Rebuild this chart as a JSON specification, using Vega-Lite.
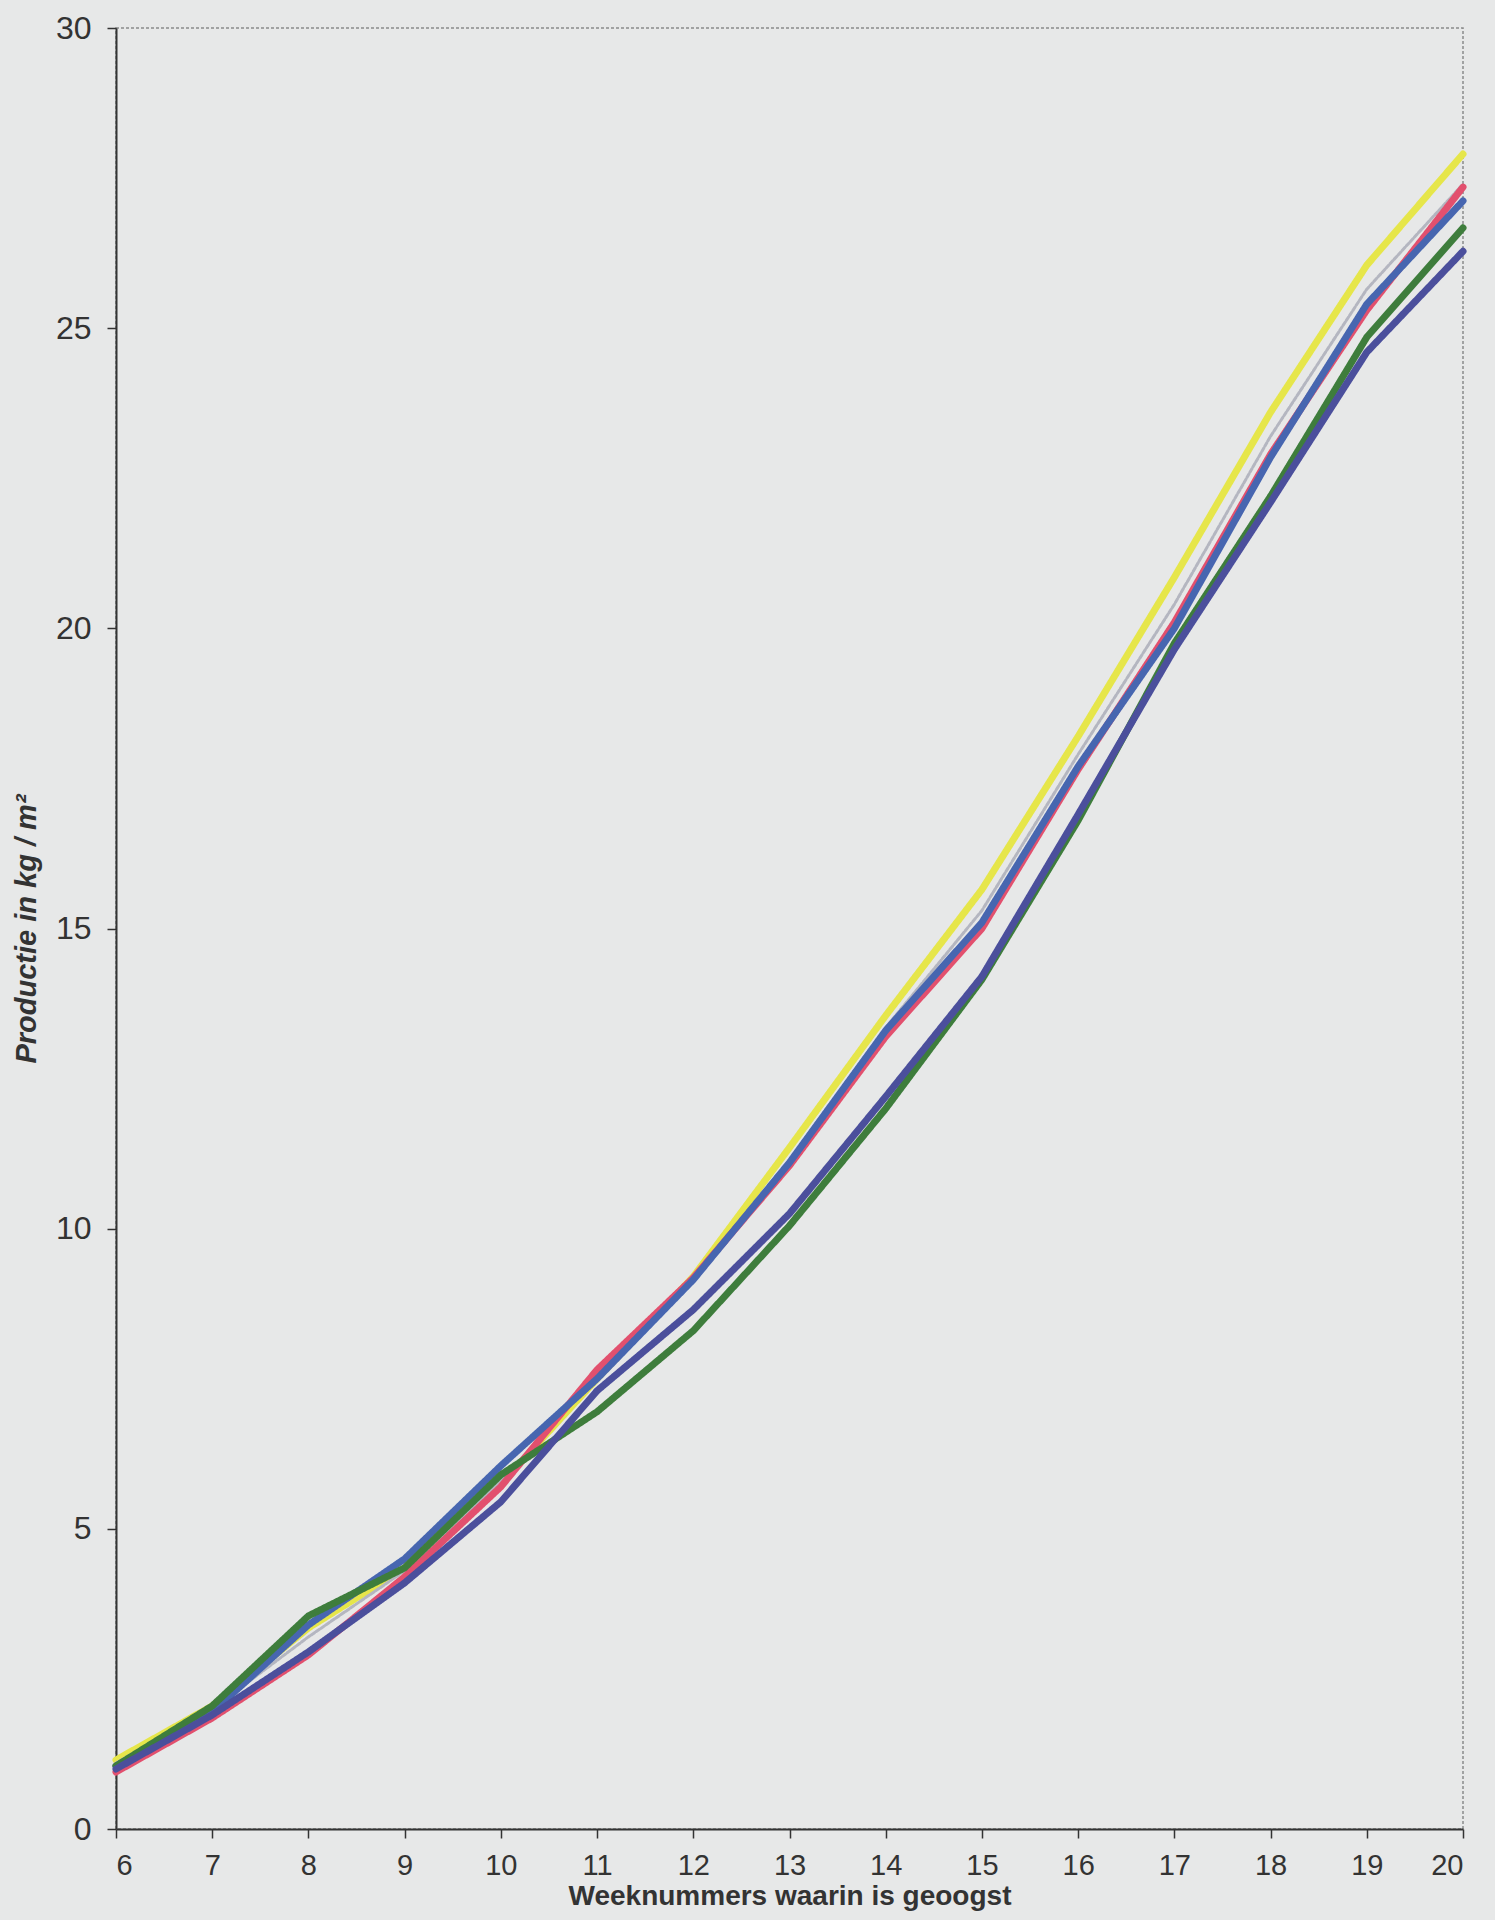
{
  "$schema": "https://vega.github.io/schema/vega-lite/v6.json",
  "autosize": "none",
  "width": 1347,
  "height": 1801,
  "padding": {"left": 116, "top": 28, "right": 32, "bottom": 91},
  "background": "#e7e8e8",
  "config": {
    "view": {"stroke": "#8a8a8a", "strokeWidth": 1.5, "strokeDash": [3, 2]},
    "font": "Liberation Sans"
  },
  "data": {
    "values": [
      {"week": 6, "serie": "geel", "kg": 1.15}, {"week": 6, "serie": "grijs", "kg": 1.1}, {"week": 6, "serie": "rood", "kg": 0.95}, {"week": 6, "serie": "blauw", "kg": 1.05}, {"week": 6, "serie": "groen", "kg": 1.05}, {"week": 6, "serie": "donkerblauw", "kg": 1.0},
      {"week": 7, "serie": "geel", "kg": 2.05}, {"week": 7, "serie": "grijs", "kg": 2.0}, {"week": 7, "serie": "rood", "kg": 1.85}, {"week": 7, "serie": "blauw", "kg": 1.95}, {"week": 7, "serie": "groen", "kg": 2.05}, {"week": 7, "serie": "donkerblauw", "kg": 1.9},
      {"week": 8, "serie": "geel", "kg": 3.35}, {"week": 8, "serie": "grijs", "kg": 3.2}, {"week": 8, "serie": "rood", "kg": 2.9}, {"week": 8, "serie": "blauw", "kg": 3.4}, {"week": 8, "serie": "groen", "kg": 3.55}, {"week": 8, "serie": "donkerblauw", "kg": 2.95},
      {"week": 9, "serie": "geel", "kg": 4.35}, {"week": 9, "serie": "grijs", "kg": 4.3}, {"week": 9, "serie": "rood", "kg": 4.2}, {"week": 9, "serie": "blauw", "kg": 4.5}, {"week": 9, "serie": "groen", "kg": 4.35}, {"week": 9, "serie": "donkerblauw", "kg": 4.1},
      {"week": 10, "serie": "geel", "kg": 5.75}, {"week": 10, "serie": "grijs", "kg": 5.8}, {"week": 10, "serie": "rood", "kg": 5.7}, {"week": 10, "serie": "blauw", "kg": 6.05}, {"week": 10, "serie": "groen", "kg": 5.9}, {"week": 10, "serie": "donkerblauw", "kg": 5.45},
      {"week": 11, "serie": "geel", "kg": 7.5}, {"week": 11, "serie": "grijs", "kg": 7.55}, {"week": 11, "serie": "rood", "kg": 7.65}, {"week": 11, "serie": "blauw", "kg": 7.5}, {"week": 11, "serie": "groen", "kg": 6.95}, {"week": 11, "serie": "donkerblauw", "kg": 7.3},
      {"week": 12, "serie": "geel", "kg": 9.2}, {"week": 12, "serie": "grijs", "kg": 9.15}, {"week": 12, "serie": "rood", "kg": 9.18}, {"week": 12, "serie": "blauw", "kg": 9.15}, {"week": 12, "serie": "groen", "kg": 8.3}, {"week": 12, "serie": "donkerblauw", "kg": 8.65},
      {"week": 13, "serie": "geel", "kg": 11.35}, {"week": 13, "serie": "grijs", "kg": 11.15}, {"week": 13, "serie": "rood", "kg": 11.05}, {"week": 13, "serie": "blauw", "kg": 11.1}, {"week": 13, "serie": "groen", "kg": 10.05}, {"week": 13, "serie": "donkerblauw", "kg": 10.25},
      {"week": 14, "serie": "geel", "kg": 13.55}, {"week": 14, "serie": "grijs", "kg": 13.35}, {"week": 14, "serie": "rood", "kg": 13.2}, {"week": 14, "serie": "blauw", "kg": 13.3}, {"week": 14, "serie": "groen", "kg": 12.0}, {"week": 14, "serie": "donkerblauw", "kg": 12.2},
      {"week": 15, "serie": "geel", "kg": 15.65}, {"week": 15, "serie": "grijs", "kg": 15.3}, {"week": 15, "serie": "rood", "kg": 15.0}, {"week": 15, "serie": "blauw", "kg": 15.1}, {"week": 15, "serie": "groen", "kg": 14.15}, {"week": 15, "serie": "donkerblauw", "kg": 14.2},
      {"week": 16, "serie": "geel", "kg": 18.2}, {"week": 16, "serie": "grijs", "kg": 17.9}, {"week": 16, "serie": "rood", "kg": 17.65}, {"week": 16, "serie": "blauw", "kg": 17.7}, {"week": 16, "serie": "groen", "kg": 16.8}, {"week": 16, "serie": "donkerblauw", "kg": 16.9},
      {"week": 17, "serie": "geel", "kg": 20.85}, {"week": 17, "serie": "grijs", "kg": 20.4}, {"week": 17, "serie": "rood", "kg": 20.1}, {"week": 17, "serie": "blauw", "kg": 20.0}, {"week": 17, "serie": "groen", "kg": 19.75}, {"week": 17, "serie": "donkerblauw", "kg": 19.65},
      {"week": 18, "serie": "geel", "kg": 23.6}, {"week": 18, "serie": "grijs", "kg": 23.2}, {"week": 18, "serie": "rood", "kg": 22.9}, {"week": 18, "serie": "blauw", "kg": 22.85}, {"week": 18, "serie": "groen", "kg": 22.2}, {"week": 18, "serie": "donkerblauw", "kg": 22.1},
      {"week": 19, "serie": "geel", "kg": 26.05}, {"week": 19, "serie": "grijs", "kg": 25.65}, {"week": 19, "serie": "rood", "kg": 25.3}, {"week": 19, "serie": "blauw", "kg": 25.4}, {"week": 19, "serie": "groen", "kg": 24.85}, {"week": 19, "serie": "donkerblauw", "kg": 24.6},
      {"week": 20, "serie": "geel", "kg": 27.9}, {"week": 20, "serie": "grijs", "kg": 27.4}, {"week": 20, "serie": "rood", "kg": 27.35}, {"week": 20, "serie": "blauw", "kg": 27.12}, {"week": 20, "serie": "groen", "kg": 26.67}, {"week": 20, "serie": "donkerblauw", "kg": 26.28}
    ]
  },
  "mark": {"type": "line", "strokeCap": "round", "strokeJoin": "round"},
  "encoding": {
    "x": {
      "field": "week",
      "type": "quantitative",
      "scale": {"domain": [6, 20], "nice": false, "zero": false},
      "axis": {
        "values": [6, 7, 8, 9, 10, 11, 12, 13, 14, 15, 16, 17, 18, 19, 20],
        "title": "Weeknummers waarin is geoogst",
        "titleFont": "Liberation Sans",
        "titleFontSize": 28,
        "titleFontWeight": "bold",
        "titleColor": "#333333",
        "titlePadding": 2,
        "labelFontSize": 29,
        "labelColor": "#333333",
        "labelPadding": 13,
        "tickSize": 9,
        "tickColor": "#333333",
        "tickWidth": 1.5,
        "domainColor": "#333333",
        "domainWidth": 2,
        "grid": false
      }
    },
    "y": {
      "field": "kg",
      "type": "quantitative",
      "scale": {"domain": [0, 30], "nice": false},
      "axis": {
        "values": [0, 5, 10, 15, 20, 25, 30],
        "title": "Productie in kg / m²",
        "titleFont": "Liberation Sans",
        "titleFontSize": 29,
        "titleFontWeight": "bold",
        "titleFontStyle": "italic",
        "titleColor": "#333333",
        "titlePadding": 14,
        "labelFontSize": 32,
        "labelColor": "#333333",
        "labelPadding": 16,
        "tickSize": 9,
        "tickColor": "#333333",
        "tickWidth": 1.5,
        "domainColor": "#333333",
        "domainWidth": 2,
        "grid": false
      }
    },
    "color": {
      "field": "serie",
      "type": "nominal",
      "scale": {
        "domain": ["donkerblauw", "groen", "blauw", "rood", "grijs", "geel"],
        "range": ["#4b4f9c", "#3e7d3c", "#4766b0", "#e2506e", "#b4b6c0", "#e6e64a"]
      },
      "legend": null
    },
    "strokeWidth": {
      "condition": {"test": "datum.serie === 'grijs'", "value": 3},
      "value": 7
    },
    "strokeDash": {
      "condition": {"test": "datum.serie === 'grijs'", "value": [4, 2]},
      "value": [1, 0]
    }
  }
}
